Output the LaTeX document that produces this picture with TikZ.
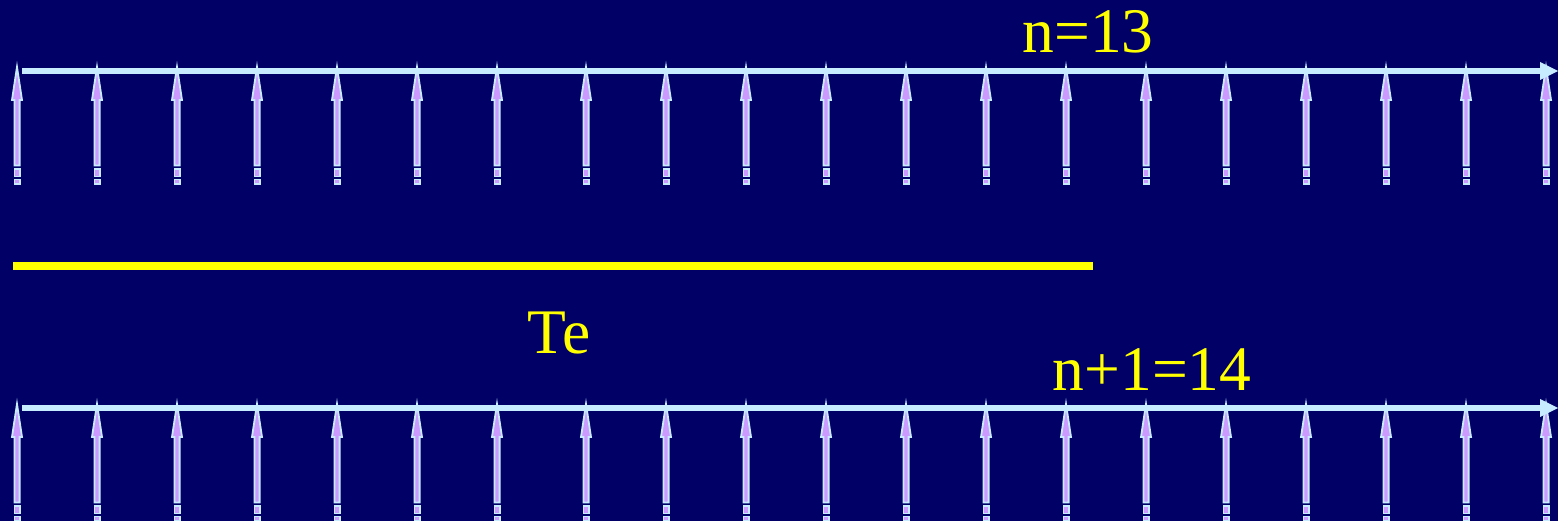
\documentclass[tikz,border=0pt]{standalone}
\usepackage{fontspec}
\setmainfont{Liberation Serif}
\definecolor{bg}{HTML}{000066}
\definecolor{lb}{HTML}{C8ECFF}
\definecolor{lav}{HTML}{CC99FF}
\definecolor{yel}{HTML}{FFFF00}
\tikzset{
  upshape/.style={fill=lav, draw=lb, line width=1.8pt, line join=miter},
  axisline/.style={draw=lb, line width=6pt},
  axishead/.style={fill=lb},
  label/.style={text=yel, font=\fontsize{63.5}{63.5}\selectfont, anchor=base, inner sep=0pt},
  teline/.style={draw=yel, line width=8pt}
}
\begin{document}
\begin{tikzpicture}[x=1pt,y=-1pt]
\fill[bg] (0,0) rectangle (1558,521);
\useasboundingbox (0,0) rectangle (1558,521);
\foreach \oy in {0,337}{
  \begin{scope}[yshift=-\oy pt]
  \foreach \x in {17,97,177,257,337,417,497,586,666,746,826,906,986,1066,1146,1226,1306,1386,1466,1546}{
    \filldraw[upshape] (\x-2.6,165.5) -- (\x-2.6,100) -- (\x-5,100) -- (\x,67) -- (\x+5,100) -- (\x+2.6,100) -- (\x+2.6,165.5) -- cycle;
    \filldraw[upshape] (\x-2.6,169) rectangle (\x+2.6,176.5);
    \filldraw[upshape] (\x-2.6,179.5) rectangle (\x+2.6,184);
  }
  \coordinate (s\oy) at (22,71);
  \coordinate (e\oy) at (1541,71);
  \draw[axisline] (s\oy) -- (e\oy);
  \fill[axishead] (1540,62) -- (1558,71) -- (1540,80) -- cycle;
  \end{scope}
}
\coordinate (ya) at (13,266);
\coordinate (yb) at (1093,266);
\draw[teline] (ya) -- (yb);
\node[label] (n13) at (1088,53) {n=13};
\node[label] (te) at (559,353) {Te};
\node[label] (n14) at (1152,390) {n+1=14};
\end{tikzpicture}
\end{document}
